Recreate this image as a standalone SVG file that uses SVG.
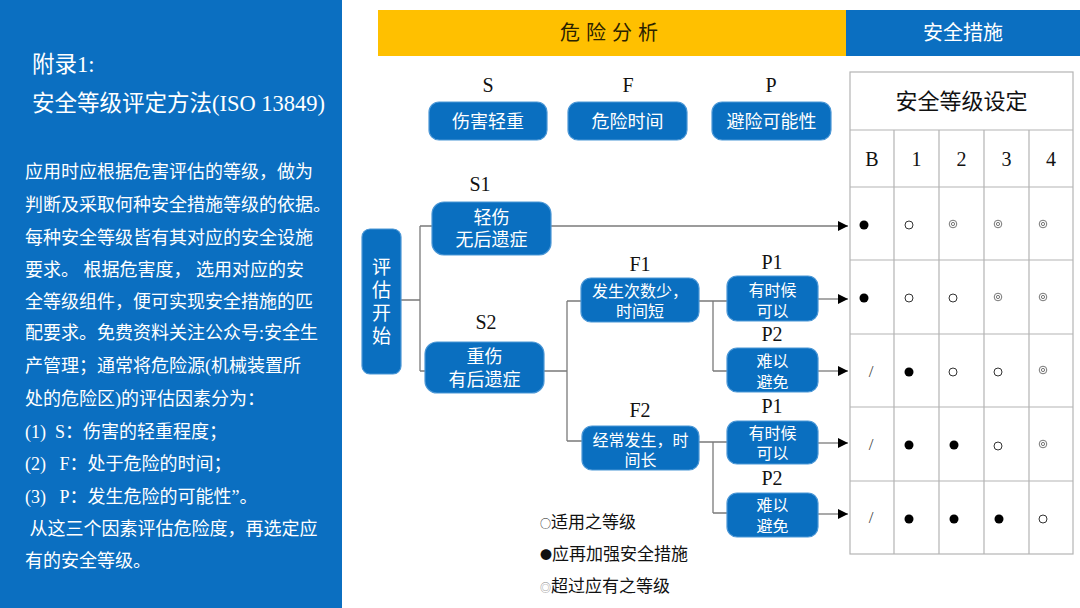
<svg xmlns="http://www.w3.org/2000/svg" width="1080" height="608" viewBox="0 0 1080 608">
<defs>
<style>
.sans{font-family:"Noto Sans CJK SC","Noto Sans",sans-serif;}
.mix{font-family:"Liberation Serif","Noto Sans CJK SC",serif;}
.ser{font-family:"Liberation Serif",serif;}
.box{fill:#0a6fc0;stroke:#4b97d6;stroke-width:1.2;}
.bt{font-family:"Noto Sans CJK SC",sans-serif;fill:#fff;text-anchor:middle;}
.lbl{font-family:"Liberation Serif",serif;font-size:20px;fill:#111;text-anchor:middle;}
.ln{fill:none;stroke:#7a7a7a;stroke-width:1.3;}
.grid{fill:none;stroke:#b4b4b4;stroke-width:1.2;}
.pt{font-family:"Liberation Serif","Noto Sans CJK SC",serif;font-size:18px;fill:#fff;white-space:pre;}
.dot{fill:#000;}
.ring{fill:#fff;stroke:#333;stroke-width:1;}
.dbl{fill:none;stroke:#777;stroke-width:1;}
</style>
<marker id="arr" viewBox="0 0 10 10" refX="10" refY="5" markerWidth="10" markerHeight="10" markerUnits="userSpaceOnUse" orient="auto">
<path d="M0,0 L10,5 L0,10 z" fill="#000"/>
</marker>
</defs>
<rect width="1080" height="608" fill="#fff"/>

<!-- left panel -->
<g id="left-panel" xml:space="preserve">
<rect x="0" y="0" width="342" height="608" fill="#0b6fc1"/>
<text class="mix" x="32" y="72" font-size="22.5" fill="#fff">附录1:</text>
<text class="mix" x="32" y="111" font-size="22.5" fill="#fff">安全等级评定方法(ISO 13849)</text>
<text class="pt" x="25" y="178">应用时应根据危害评估的等级，做为</text>
<text class="pt" x="25" y="211">判断及采取何种安全措施等级的依据。</text>
<text class="pt" x="25" y="244">每种安全等级皆有其对应的安全设施</text>
<text class="pt" x="25" y="276">要求。 根据危害度， 选用对应的安</text>
<text class="pt" x="25" y="308">全等级组件，便可实现安全措施的匹</text>
<text class="pt" x="25" y="339">配要求。免费资料关注公众号:安全生</text>
<text class="pt" x="25" y="372">产管理；通常将危险源(机械装置所</text>
<text class="pt" x="25" y="405">处的危险区)的评估因素分为：</text>
<text class="pt" x="25" y="438">(1)  S：伤害的轻重程度；</text>
<text class="pt" x="25" y="470">(2)   F：处于危险的时间；</text>
<text class="pt" x="25" y="503">(3)   P：发生危险的可能性”。</text>
<text class="pt" x="25" y="535"> 从这三个因素评估危险度，再选定应</text>
<text class="pt" x="25" y="567">有的安全等级。</text>
</g>

<!-- headers -->
<g id="header-hazard">
<rect x="378" y="10" width="468" height="46" fill="#ffc000"/>
<text class="sans" x="612" y="40" font-size="20" fill="#2b2200" text-anchor="middle" letter-spacing="6">危险分析</text>
</g>
<g id="header-safety">
<rect x="846" y="10" width="234" height="46" fill="#0b6fc1"/>
<text class="sans" x="963" y="40" font-size="20" fill="#fff" text-anchor="middle">安全措施</text>
</g>

<!-- S F P labels and boxes -->
<g id="col-S">
<text class="lbl" x="488" y="92">S</text>
<rect class="box" x="429" y="102" width="118" height="38" rx="10"/>
<text class="bt" x="488" y="128" font-size="18">伤害轻重</text>
</g>
<g id="col-F">
<text class="lbl" x="628" y="92">F</text>
<rect class="box" x="568" y="102" width="119" height="38" rx="10"/>
<text class="bt" x="627.5" y="128" font-size="18">危险时间</text>
</g>
<g id="col-P">
<text class="lbl" x="771" y="92">P</text>
<rect class="box" x="712" y="102" width="119" height="38" rx="10"/>
<text class="bt" x="771.5" y="128" font-size="18">避险可能性</text>
</g>

<!-- connectors -->
<g id="connectors">
<path class="ln" d="M401,300 H420 M420,226 V371 M420,226 H432 M420,371 H425"/>
<path class="ln" d="M551,226 H848" marker-end="url(#arr)"/>
<path class="ln" d="M544,371 H567 M567,301 V441 M567,301 H581 M567,441 H582"/>
<path class="ln" d="M699,301 H713 M713,301 V371 M713,301 H727 M713,371 H727"/>
<path class="ln" d="M699,442 H713 M713,442 V513 M713,442 H727 M713,513 H727"/>
<path class="ln" d="M818,299 H848" marker-end="url(#arr)"/>
<path class="ln" d="M818,371 H848" marker-end="url(#arr)"/>
<path class="ln" d="M818,443 H848" marker-end="url(#arr)"/>
<path class="ln" d="M818,514 H848" marker-end="url(#arr)"/>
</g>

<!-- flow nodes -->
<g id="start">
<rect class="box" x="362" y="229" width="39" height="145" rx="8"/>
<text class="bt" x="381.5" y="274" font-size="19">评</text>
<text class="bt" x="381.5" y="297" font-size="19">估</text>
<text class="bt" x="381.5" y="320" font-size="19">开</text>
<text class="bt" x="381.5" y="343" font-size="19">始</text>
</g>
<g id="S1">
<text class="lbl" x="480" y="191">S1</text>
<rect class="box" x="432" y="202" width="119" height="53" rx="12"/>
<text class="bt" x="491.5" y="224" font-size="18">轻伤</text>
<text class="bt" x="491.5" y="246" font-size="18">无后遗症</text>
</g>
<g id="S2">
<text class="lbl" x="486" y="329">S2</text>
<rect class="box" x="425" y="342" width="119" height="51" rx="12"/>
<text class="bt" x="484.5" y="363" font-size="18">重伤</text>
<text class="bt" x="484.5" y="386" font-size="18">有后遗症</text>
</g>
<g id="F1">
<text class="lbl" x="640" y="271">F1</text>
<rect class="box" x="581" y="278" width="118" height="44" rx="10"/>
<text class="bt" x="640" y="297" font-size="16">发生次数少，</text>
<text class="bt" x="640" y="317" font-size="16">时间短</text>
</g>
<g id="F2">
<text class="lbl" x="640" y="417">F2</text>
<rect class="box" x="582" y="426" width="117" height="44" rx="10"/>
<text class="bt" x="640.5" y="446" font-size="16">经常发生，时</text>
<text class="bt" x="640.5" y="466" font-size="16">间长</text>
</g>
<g id="F1-P1">
<text class="lbl" x="772" y="269">P1</text>
<rect class="box" x="727" y="276" width="91" height="45" rx="10"/>
<text class="bt" x="772.5" y="296" font-size="16">有时候</text>
<text class="bt" x="772.5" y="317" font-size="16">可以</text>
</g>
<g id="F1-P2">
<text class="lbl" x="772" y="341">P2</text>
<rect class="box" x="727" y="348" width="91" height="44" rx="10"/>
<text class="bt" x="772.5" y="367" font-size="16">难以</text>
<text class="bt" x="772.5" y="388" font-size="16">避免</text>
</g>
<g id="F2-P1">
<text class="lbl" x="772" y="413">P1</text>
<rect class="box" x="727" y="421" width="91" height="43" rx="10"/>
<text class="bt" x="772.5" y="439" font-size="16">有时候</text>
<text class="bt" x="772.5" y="459" font-size="16">可以</text>
</g>
<g id="F2-P2">
<text class="lbl" x="772" y="485">P2</text>
<rect class="box" x="727" y="493" width="91" height="44" rx="10"/>
<text class="bt" x="772.5" y="511" font-size="16">难以</text>
<text class="bt" x="772.5" y="532" font-size="16">避免</text>
</g>

<!-- table -->
<g id="table">
<rect class="grid" x="850" y="72" width="223" height="482"/>
<path class="grid" d="M850,130 H1073 M850,187 H1073 M850,260 H1073 M850,334 H1073 M850,407 H1073 M850,481 H1073 M894,130 V554 M939,130 V554 M984,130 V554 M1029,130 V554"/>
<text class="sans" x="961.5" y="109" font-size="22" fill="#111" text-anchor="middle">安全等级设定</text>
<g class="ser" font-size="20" fill="#111" text-anchor="middle">
<text x="872" y="166">B</text>
<text x="916.5" y="166">1</text>
<text x="961.5" y="166">2</text>
<text x="1006.5" y="166">3</text>
<text x="1051" y="166">4</text>
</g>
<!-- row 1 -->
<circle class="dot" cx="864" cy="225" r="4.5"/>
<circle class="ring" cx="909" cy="225" r="4"/>
<circle class="dbl" cx="953" cy="224" r="3.8"/><circle class="dbl" cx="953" cy="224" r="1.6"/>
<circle class="dbl" cx="998" cy="224" r="3.8"/><circle class="dbl" cx="998" cy="224" r="1.6"/>
<circle class="dbl" cx="1043" cy="224" r="3.8"/><circle class="dbl" cx="1043" cy="224" r="1.6"/>
<!-- row 2 -->
<circle class="dot" cx="864" cy="298" r="4.5"/>
<circle class="ring" cx="909" cy="298" r="4"/>
<circle class="ring" cx="953" cy="298" r="4"/>
<circle class="dbl" cx="998" cy="297" r="3.8"/><circle class="dbl" cx="998" cy="297" r="1.6"/>
<circle class="dbl" cx="1043" cy="297" r="3.8"/><circle class="dbl" cx="1043" cy="297" r="1.6"/>
<!-- row 3 -->
<text class="ser" x="871" y="377" font-size="17" fill="#444" text-anchor="middle">/</text>
<circle class="dot" cx="909" cy="372" r="4.5"/>
<circle class="ring" cx="953" cy="372" r="4"/>
<circle class="ring" cx="998" cy="372" r="4"/>
<circle class="dbl" cx="1043" cy="370" r="3.8"/><circle class="dbl" cx="1043" cy="370" r="1.6"/>
<!-- row 4 -->
<text class="ser" x="871" y="450" font-size="17" fill="#444" text-anchor="middle">/</text>
<circle class="dot" cx="909" cy="445" r="4.5"/>
<circle class="dot" cx="954" cy="445" r="4.5"/>
<circle class="ring" cx="998" cy="446" r="4"/>
<circle class="dbl" cx="1043" cy="444" r="3.8"/><circle class="dbl" cx="1043" cy="444" r="1.6"/>
<!-- row 5 -->
<text class="ser" x="871" y="523" font-size="17" fill="#444" text-anchor="middle">/</text>
<circle class="dot" cx="909" cy="519" r="4.5"/>
<circle class="dot" cx="954" cy="519" r="4.5"/>
<circle class="dot" cx="999" cy="519" r="4.5"/>
<circle class="ring" cx="1043" cy="519" r="4"/>
</g>

<!-- legend -->
<g id="legend" class="sans" font-size="17" fill="#111">
<text x="540" y="528"><tspan font-size="11">○</tspan>适用之等级</text>
<text x="540" y="560"><tspan font-size="12">●</tspan>应再加强安全措施</text>
<text x="540" y="592"><tspan font-size="11" fill="#888">◎</tspan>超过应有之等级</text>
</g>
</svg>
